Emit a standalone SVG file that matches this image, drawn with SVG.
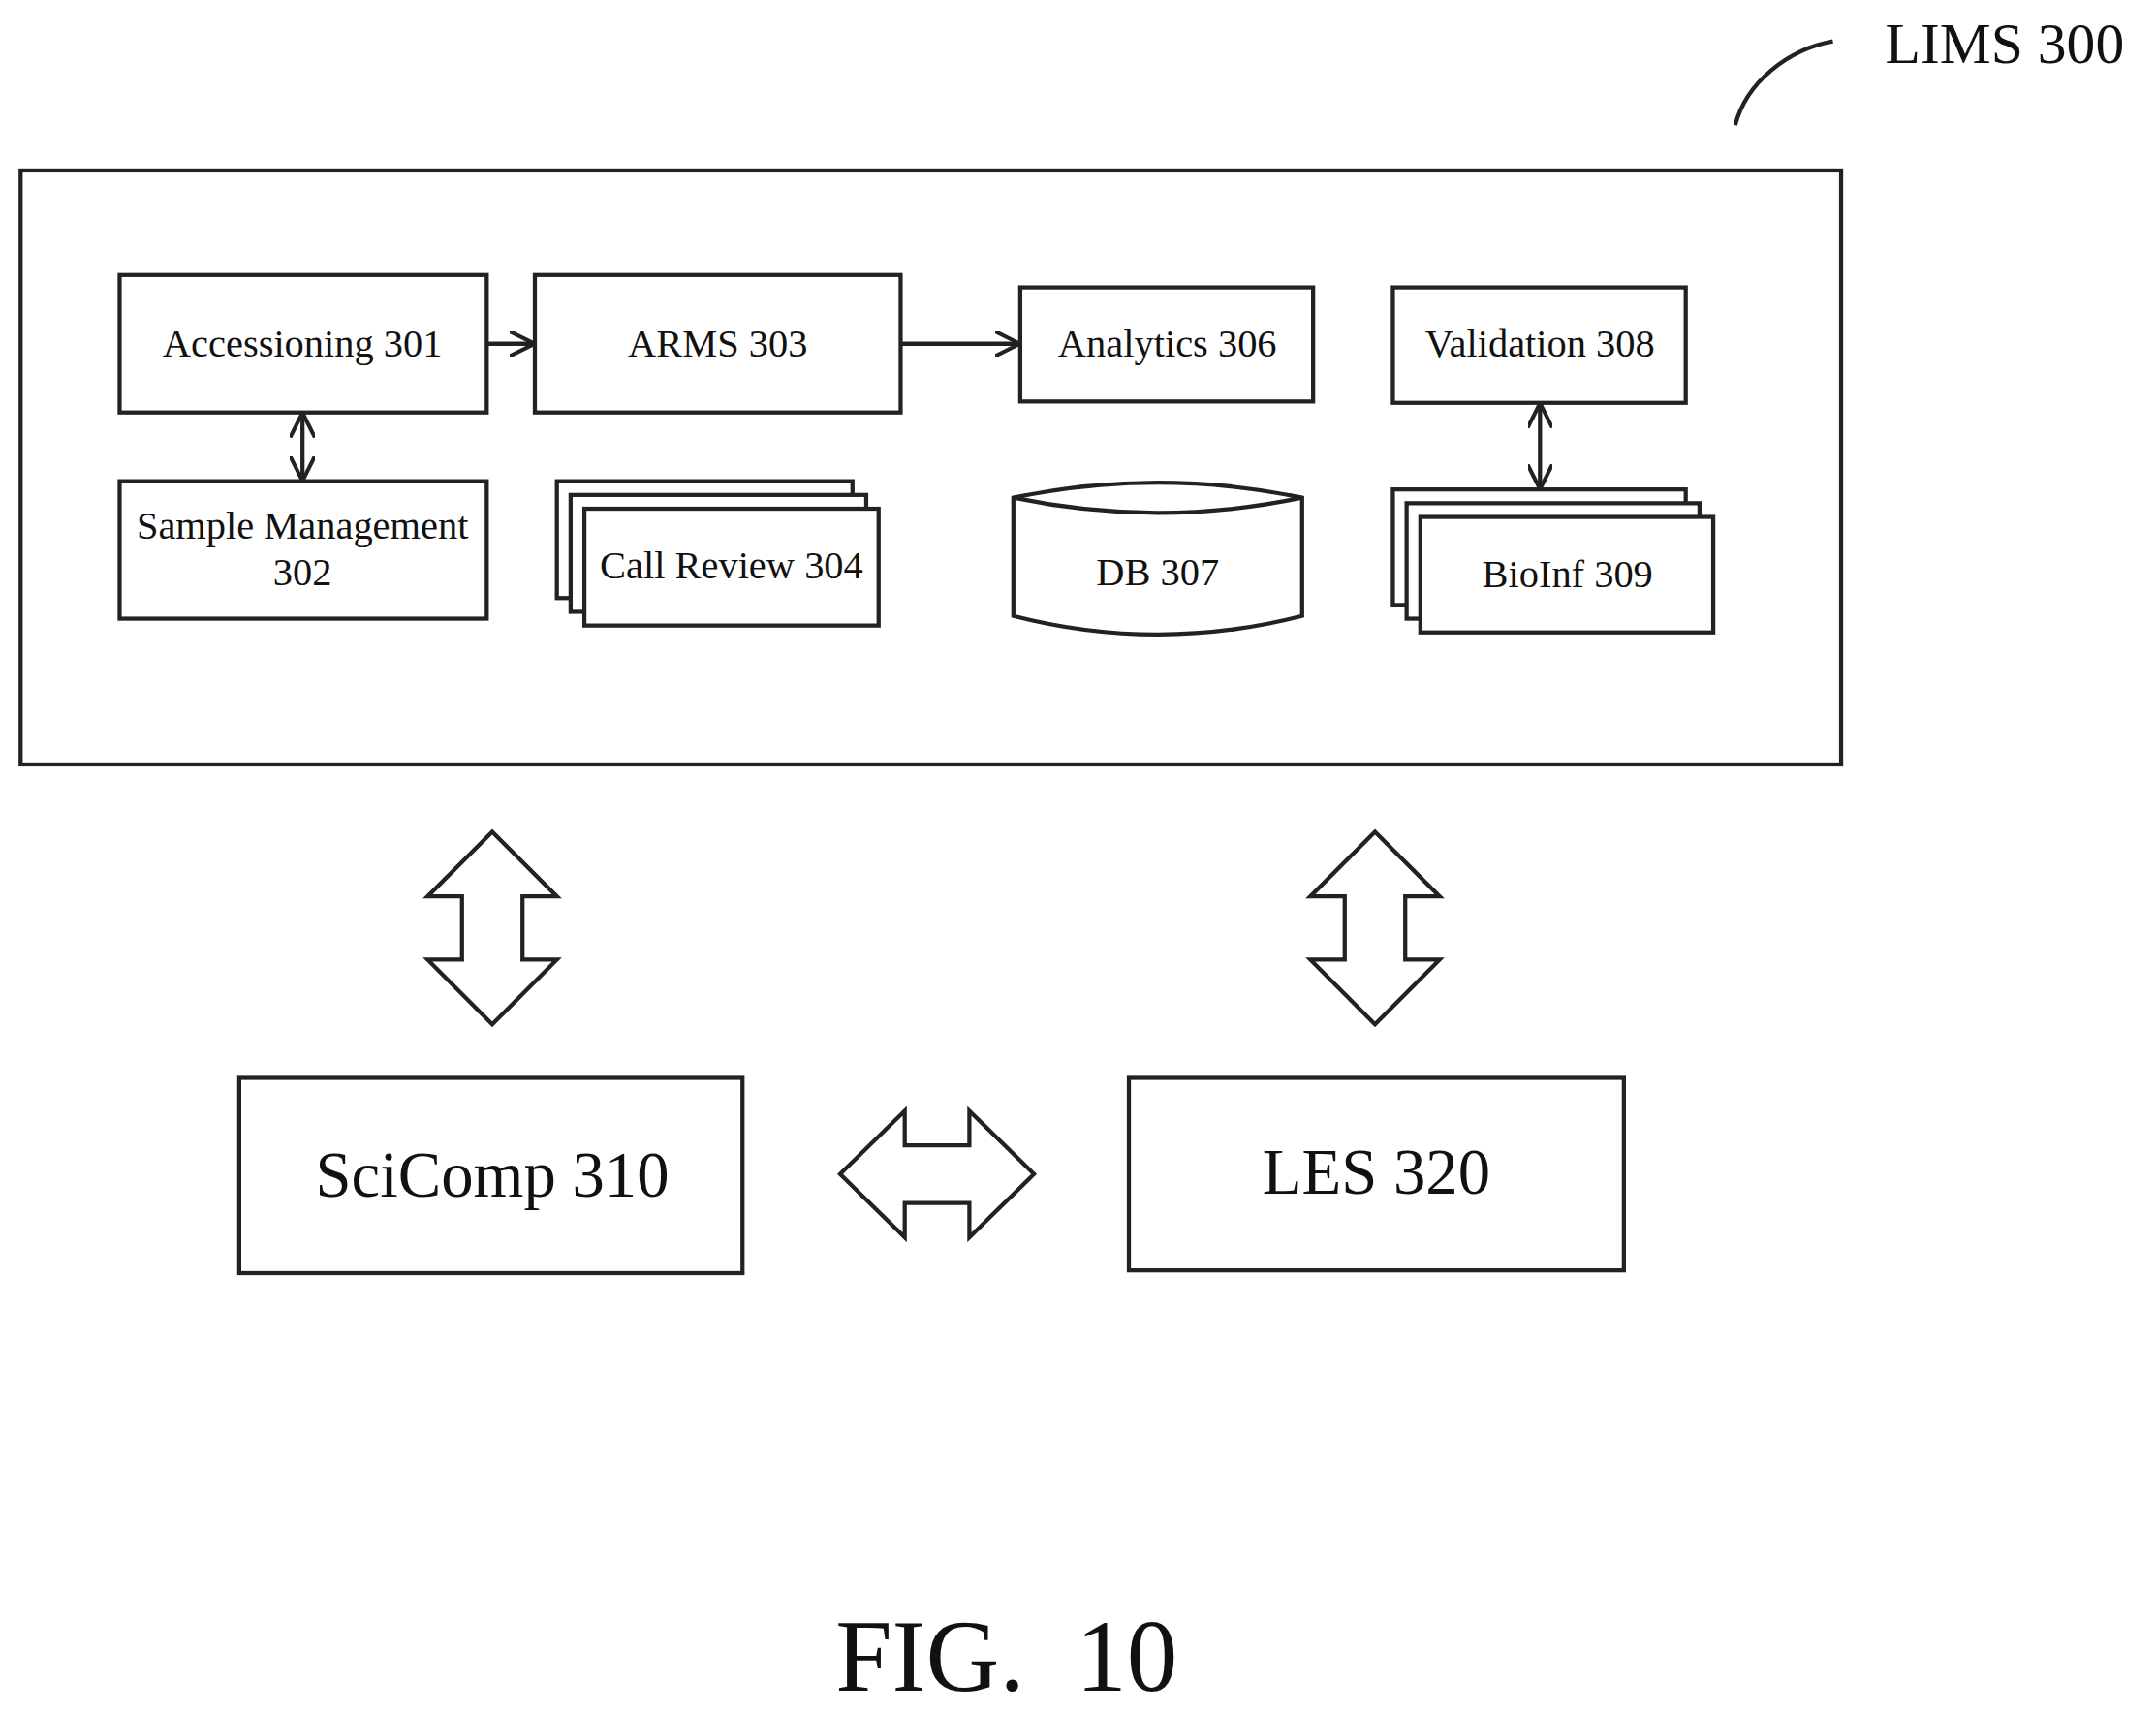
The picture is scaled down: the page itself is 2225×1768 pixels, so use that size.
<svg xmlns="http://www.w3.org/2000/svg" width="2225" height="1768" viewBox="0 0 2225 1768">
<style>
.b{fill:#fff;stroke:#222;stroke-width:3}
.l{fill:none;stroke:#222;stroke-width:3}
text{font-family:"Liberation Serif",serif;fill:#111;text-anchor:middle}
.s{font-size:28.5px}
.m{font-size:47px}
</style>
<defs>
<marker id="a" viewBox="0 0 10 10" refX="9" refY="5" markerWidth="6" markerHeight="6" orient="auto-start-reverse"><path d="M0,0 L10,5 L0,10" fill="none" stroke="#222" stroke-width="1.6"/></marker>
</defs>
<rect width="2225" height="1768" fill="#fff"/>
<g transform="scale(1.419)">
<g id="lims"><rect class="b" x="15" y="124" width="1324" height="432"/>
<path class="l" d="M1262,91 C1270,60 1300,36 1333,30"/>
<text x="1458" y="46" style="font-size:42px">LIMS 300</text></g>
<g id="n301"><rect class="b" x="87" y="200" width="267" height="100"/><text class="s" x="220" y="259">Accessioning 301</text></g>
<g id="n303"><rect class="b" x="389" y="200" width="266" height="100"/><text class="s" x="522" y="259">ARMS 303</text></g>
<g id="n306"><rect class="b" x="742" y="209" width="213" height="83"/><text class="s" x="849" y="259">Analytics 306</text></g>
<g id="n308"><rect class="b" x="1013" y="209" width="213" height="84"/><text class="s" x="1120" y="259">Validation 308</text></g>
<g id="n302"><rect class="b" x="87" y="350" width="267" height="100"/><text class="s" x="220" y="392">Sample Management</text><text class="s" x="220" y="426">302</text></g>
<g id="n304"><rect class="b" x="405" y="350" width="215" height="85"/><rect class="b" x="415" y="360" width="215" height="85"/><rect class="b" x="425" y="370" width="214" height="85"/><text class="s" x="532" y="421">Call Review 304</text></g>
<g id="n307"><path class="b" d="M737,362 Q842,340 947,362 L947,448 Q842,475 737,448 Z"/><path class="l" d="M737,362 Q842,384 947,362"/><text class="s" x="842" y="426">DB 307</text></g>
<g id="n309"><rect class="b" x="1013" y="356" width="213" height="84"/><rect class="b" x="1023" y="366" width="213" height="84"/><rect class="b" x="1033" y="376" width="213" height="84"/><text class="s" x="1140" y="427">BioInf 309</text></g>
<g id="n310"><rect class="b" x="174" y="784" width="366" height="142"/><text class="m" x="358" y="870">SciComp 310</text></g>
<g id="n320"><rect class="b" x="821" y="784" width="360" height="140"/><text class="m" x="1001" y="868">LES 320</text></g>
<g id="connectors">
<line class="l" x1="354" y1="250" x2="387" y2="250" marker-end="url(#a)"/>
<line class="l" x1="655" y1="250" x2="740" y2="250" marker-end="url(#a)"/>
<line class="l" x1="220" y1="302" x2="220" y2="348" marker-start="url(#a)" marker-end="url(#a)"/>
<line class="l" x1="1120" y1="295" x2="1120" y2="354" marker-start="url(#a)" marker-end="url(#a)"/>
<path class="b" d="M358,605 L405,652 L380,652 L380,698 L405,698 L358,745 L311,698 L336,698 L336,652 L311,652 Z"/>
<path class="b" d="M1000,605 L1047,652 L1022,652 L1022,698 L1047,698 L1000,745 L953,698 L978,698 L978,652 L953,652 Z"/>
<path class="b" d="M611,854 L658,808 L658,833 L705,833 L705,808 L752,854 L705,900 L705,875 L658,875 L658,900 Z"/>
</g>
<text x="732" y="1230" style="font-size:74px;white-space:pre" xml:space="preserve">FIG.  10</text>
</g>
</svg>
